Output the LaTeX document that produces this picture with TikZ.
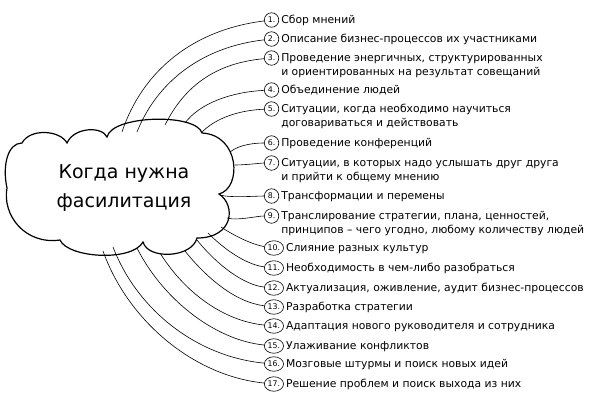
\documentclass[tikz,border=0pt]{standalone}
\usepackage{fontspec}
\setmainfont{DejaVu Sans}
\usepackage{tikz}
\usetikzlibrary{calc,positioning,shapes.geometric}
\newcommand\tworows[2]{\begin{tabular}[t]{@{}l@{}}#1\\#2\end{tabular}}
\begin{document}
\begin{tikzpicture}[x=1pt,y=-1pt,
	num/.style={draw,ellipse,line width=.6pt,inner xsep=.6pt,inner ysep=.3pt,minimum height=14.5pt,minimum width=14.5pt,font=\fontsize{7.8}{8}\selectfont,anchor=west},
	item/.style={anchor=base west,inner sep=0pt,font=\fontsize{10.8}{13.6}\selectfont},
	link/.style={line width=.6pt}]
			\useasboundingbox (0,0) rectangle (607,405);
			\draw[line width=1.2pt](22,143) .. controls (30,128) and (60,130) .. (67,143)
				.. controls (74,127) and (102,126) .. (107,137)
				.. controls (112,115) and (196,113) .. (202,133)
				.. controls (240,135) and (242,188) .. (219,194)
				.. controls (236,205) and (234,238) .. (197,238)
				.. controls (192,258) and (148,260) .. (143,242)
				.. controls (132,262) and (68,258) .. (60,240)
				.. controls (25,245) and (2,215) .. (7,188)
				.. controls (2,165) and (8,143) .. (22,143) -- cycle;
			\node[align=center,font=\fontsize{19}{29}\selectfont](cloud) at(124,188){Когда нужна\\фасилитация};
			
			\coordinate(s1) at(122,132);
			\coordinate(s2) at(137,132);
			\coordinate(s3) at(165,125);
			\coordinate(s4) at(185,123);
			\coordinate(s5) at(202,132);
			\coordinate(s6) at(230,152);
			\coordinate(s7) at(235,165);
			\coordinate(s8) at(220,195);
			\coordinate(s9) at(227,218);
			\coordinate(s10) at(221,227);
			\coordinate(s11) at(208,233);
			\coordinate(s12) at(197,240);
			\coordinate(s13) at(185,251);
			\coordinate(s14) at(160,253);
			\coordinate(s15) at(137,248);
			\coordinate(s16) at(113,247);
			\coordinate(s17) at(103,251);
			
			\node[num](n1) at(264,20){1.};
			\node[num](n2) at(264,39){2.};
			\node[num](n3) at(264,58){3.};
			\node[num](n4) at(264,90){4.};
			\node[num](n5) at(264,109){5.};
			\node[num](n6) at(264,143){6.};
			\node[num](n7) at(264,163){7.};
			\node[num](n8) at(264,196){8.};
			\node[num](n9) at(264,216){9.};
			\node[num](n10) at(264,248){10.};
			\node[num](n11) at(264,268){11.};
			\node[num](n12) at(264,288){12.};
			\node[num](n13) at(264,307){13.};
			\node[num](n14) at(264,326){14.};
			\node[num](n15) at(264,346){15.};
			\node[num](n16) at(264,364){16.};
			\node[num](n17) at(264,384){17.};
			
			\node[item](t1) at([xshift=2pt,yshift=-3.9pt]n1.east){Сбор мнений};
			\node[item](t2) at([xshift=2pt,yshift=-3.9pt]n2.east){Описание бизнес-процессов их участниками};
			\node[item](t3) at([xshift=2pt,yshift=-3.9pt]n3.east){\tworows{Проведение энергичных, структурированных}{ и ориентированных на результат совещаний}};
			\node[item](t4) at([xshift=2pt,yshift=-3.9pt]n4.east){Объединение людей};
			\node[item](t5) at([xshift=2pt,yshift=-3.9pt]n5.east){\tworows{Ситуации, когда необходимо научиться}{договариваться и действовать}};
			\node[item](t6) at([xshift=2pt,yshift=-3.9pt]n6.east){Проведение конференций};
			\node[item](t7) at([xshift=2pt,yshift=-3.9pt]n7.east){\tworows{Ситуации, в которых надо услышать друг друга}{ и прийти к общему мнению}};
			\node[item](t8) at([xshift=2pt,yshift=-3.9pt]n8.east){Трансформации и перемены};
			\node[item](t9) at([xshift=2pt,yshift=-3.9pt]n9.east){\tworows{Транслирование стратегии, плана, ценностей,}{ принципов – чего угодно, любому количеству людей}};
			\node[item](t10) at([xshift=2pt,yshift=-3.9pt]n10.east){Слияние разных культур};
			\node[item](t11) at([xshift=2pt,yshift=-3.9pt]n11.east){Необходимость в чем-либо разобраться};
			\node[item](t12) at([xshift=2pt,yshift=-3.9pt]n12.east){Актуализация, оживление, аудит бизнес-процессов};
			\node[item](t13) at([xshift=2pt,yshift=-3.9pt]n13.east){Разработка стратегии};
			\node[item](t14) at([xshift=2pt,yshift=-3.9pt]n14.east){Адаптация нового руководителя и сотрудника};
			\node[item](t15) at([xshift=2pt,yshift=-3.9pt]n15.east){Улаживание конфликтов};
			\node[item](t16) at([xshift=2pt,yshift=-3.9pt]n16.east){Мозговые штурмы и поиск новых идей};
			\node[item](t17) at([xshift=2pt,yshift=-3.9pt]n17.east){Решение проблем и поиск выхода из них};
			
			\draw[link](s1) .. controls +(20,-60) and +(-80,10) .. (n1);
			\draw[link](s2) .. controls +(20,-50) and +(-70,8) .. (n2);
			\draw[link](s3) .. controls +(20,-40) and +(-55,5) .. (n3);
			\draw[link](s4) .. controls +(15,-20) and +(-40,2) .. (n4);
			\draw[link](s5) .. controls +(15,-15) and +(-30,1) .. (n5);
			\draw[link](s6) .. controls +(10,-8) and +(-15,0) .. (n6);
			\draw[link](s7) .. controls +(10,0) and +(-10,0) .. (n7);
			\draw[link](s8) .. controls +(10,3) and +(-15,0) .. (n8);
			\draw[link](s9) .. controls +(10,3) and +(-15,0) .. (n9);
			\draw[link](s10) .. controls +(15,10) and +(-20,-3) .. (n10);
			\draw[link](s11) .. controls +(20,20) and +(-25,-3) .. (n11);
			\draw[link](s12) .. controls +(20,25) and +(-30,-3) .. (n12);
			\draw[link](s13) .. controls +(20,25) and +(-40,-5) .. (n13);
			\draw[link](s14) .. controls +(25,40) and +(-50,-5) .. (n14);
			\draw[link](s15) .. controls +(25,50) and +(-60,-6) .. (n15);
			\draw[link](s16) .. controls +(25,65) and +(-75,-7) .. (n16);
			\draw[link](s17) .. controls +(25,70) and +(-80,-8) .. (n17);
		\end{tikzpicture}
\end{document}
